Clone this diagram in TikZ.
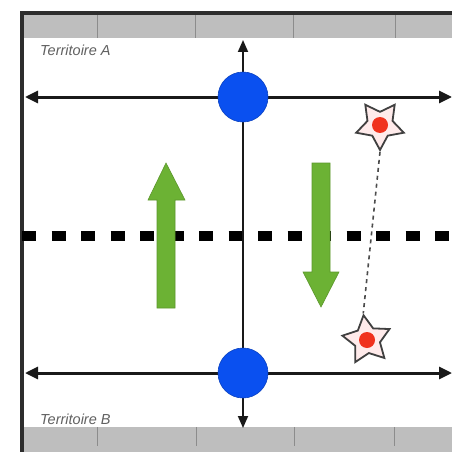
\documentclass[tikz,border=0pt]{standalone}
\usepackage{fontspec}
\setmainfont{Liberation Sans}
\usetikzlibrary{arrows.meta,shapes.geometric}
\definecolor{bandgray}{RGB}{190,190,190}
\definecolor{framegray}{RGB}{45,45,45}
\definecolor{arrowgreen}{RGB}{108,178,52}
\definecolor{dotblue}{RGB}{10,80,240}
\definecolor{dotred}{RGB}{240,50,30}
\tikzset{
  hline/.style={line width=3pt, draw=black!90, {Triangle[length=13pt,width=12pt]}-{Triangle[length=13pt,width=12pt]}},
  vline/.style={line width=1.8pt, draw=black!90, {Triangle[length=12pt,width=10pt]}-{Triangle[length=12pt,width=10pt]}},
  bluedot/.style={circle, fill=dotblue, draw=dotblue!80!black, line width=0.6pt, minimum size=50pt, inner sep=0pt},
  starshape/.style={star, star points=5, star point ratio=1.9, draw=black!75, line width=1.8pt, fill=red!8, minimum size=50pt, inner sep=0pt},
  reddot/.style={circle, fill=dotred, minimum size=16pt, inner sep=0pt},
  territ/.style={font=\itshape\fontsize{14.5}{14.5}\selectfont, text=black!62, anchor=west, inner sep=0pt},
  greenarrow/.style={fill=arrowgreen, draw=arrowgreen!85!black, line width=0.6pt},
  tick/.style={draw=black!45, line width=0.8pt},
}
\begin{document}
\begin{tikzpicture}[x=1pt,y=-1pt]
\useasboundingbox (0,0) rectangle (452,452);
\fill[white] (0,0) rectangle (452,452);
% bands
\fill[bandgray] (22,13) rectangle (452,38);
\fill[bandgray] (22,427) rectangle (452,452);
\foreach \x in {97,195,293,395} \draw[tick] (\x,14) -- (\x,38);
\foreach \x in {97,196,294,394} \draw[tick] (\x,427) -- (\x,446);
% frame
\draw[framegray, line width=3.5pt] (452,13) -- (22,13) -- (22,452);
% dashed border
\draw[black, line width=10pt, dash pattern=on 14pt off 15.5pt] (22,236) -- (452,236);
% coordinates
\coordinate (hAl) at (25,97);
\coordinate (hAr) at (452,97);
\coordinate (hBl) at (25,373);
\coordinate (hBr) at (452,373);
\coordinate (vt) at (243,40);
\coordinate (vb) at (243,428);
\draw[vline] (vt) -- (vb);
\draw[hline] (hAl) -- (hAr);
\draw[hline] (hBl) -- (hBr);
\node[bluedot] (pA) at (243,97) {};
\node[bluedot] (pB) at (243,373) {};
% green arrows
\path[greenarrow] (157,308) -- (157,200) -- (148,200) -- (166,163) -- (185,200) -- (175,200) -- (175,308) -- cycle;
\path[greenarrow] (312,163) -- (330,163) -- (330,272) -- (339,272) -- (321,307) -- (303,272) -- (312,272) -- cycle;
% stars
\node[starshape, rotate=180] (sA) at (380,125) {};
\node[starshape, rotate=8] (sB) at (367,340) {};
\node[reddot] (rA) at (380,125) {};
\node[reddot] (rB) at (367,340) {};
\draw[black!70, line width=1.6pt, dash pattern=on 4pt off 4pt] (sA.north) -- (sB.north);
% texts
\node[territ] (tA) at (40,50) {Territoire A};
\node[territ] (tB) at (40,419) {Territoire B};
\end{tikzpicture}
\end{document}
